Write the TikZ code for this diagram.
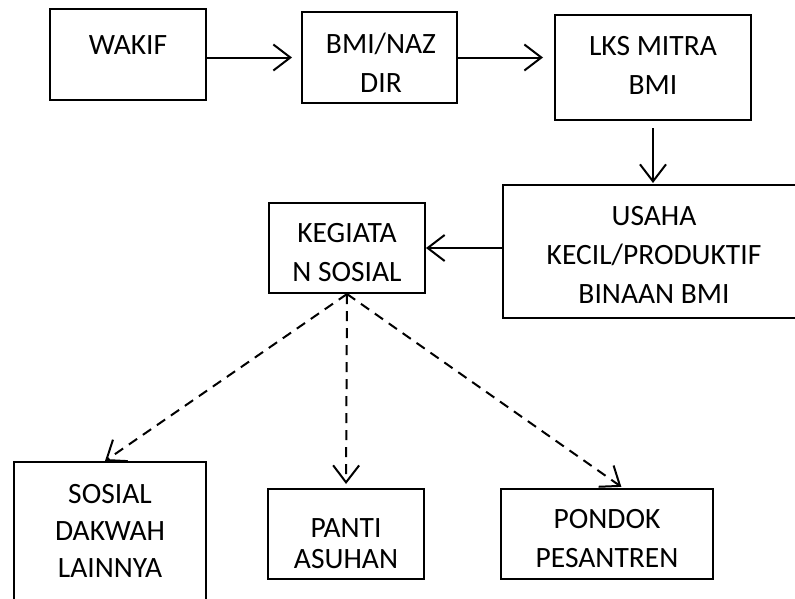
\documentclass[tikz,border=0pt]{standalone}
\usepackage{fontspec}
\setmainfont{Carlito}
\usetikzlibrary{arrows.meta}
\begin{document}
\begin{tikzpicture}[x=1pt,y=-1pt,
  box/.style={draw, line width=2pt, rectangle, inner sep=0pt},
  txt/.style={font=\fontsize{29.5}{39}\selectfont, align=center, inner sep=0pt},
  arr/.style={line width=2pt, -{Straight Barb[length=17pt,width=26pt,line width=2pt]}},
  darr/.style={arr, dash pattern=on 10pt off 7pt}
]
\useasboundingbox (0,0) rectangle (795,598);
\begin{scope}
\clip (0,0) rectangle (795,598);
\node[box, minimum width=156pt, minimum height=91pt] (wakif) at (128,54.5) {};
\node[box, minimum width=155pt, minimum height=91pt] (bmi) at (379.5,57.5) {};
\node[box, minimum width=196pt, minimum height=105pt] (lks) at (653,67.5) {};
\node[box, minimum width=302pt, minimum height=133pt] (usaha) at (654,251.5) {};
\node[box, minimum width=156pt, minimum height=90pt] (keg) at (347,248) {};
\node[box, minimum width=192pt, minimum height=156pt] (sosial) at (110,540) {};
\node[box, minimum width=156pt, minimum height=90pt] (panti) at (346,534) {};
\node[box, minimum width=212pt, minimum height=90pt] (pondok) at (607,534) {};

\node[txt] (t-wakif) at (128,45) {WAKIF};
\node[txt] (t-bmi) at (381,62.5) {BMI/NAZ\\DIR};
\node[txt] (t-lks) at (653,65) {LKS MITRA\\BMI};
\node[txt] (t-usaha) at (654,255) {USAHA\\KECIL/PRODUKTIF\\BINAAN BMI};
\node[txt] (t-keg) at (347,252.5) {KEGIATA\\N SOSIAL};
\node[txt, font=\fontsize{29.5}{37}\selectfont] (t-sosial) at (110,531) {SOSIAL\\DAKWAH\\LAINNYA};
\node[txt, font=\fontsize{29.5}{31}\selectfont] (t-panti) at (346,543.5) {PANTI\\ASUHAN};
\node[txt] (t-pondok) at (607,538.5) {PONDOK\\PESANTREN};
\end{scope}

\draw[arr] (wakif.east |- bmi.west) -- ([xshift=-9pt]bmi.west);
\draw[arr] (bmi.east) -- ([xshift=-11pt]lks.west |- bmi.east);
\draw[arr, shorten >=1pt] ([yshift=-7pt]lks.south) -- (lks.south |- usaha.north);
\draw[arr] (usaha.west |- keg.east) -- (keg.east);
\draw[darr] (keg.south) -- ([xshift=-5pt]sosial.north);
\draw[darr, shorten >=4pt] (keg.south) -- (panti.north);
\draw[darr, shorten >=2pt] (keg.south) -- ([xshift=16pt]pondok.north);
\end{tikzpicture}
\end{document}
